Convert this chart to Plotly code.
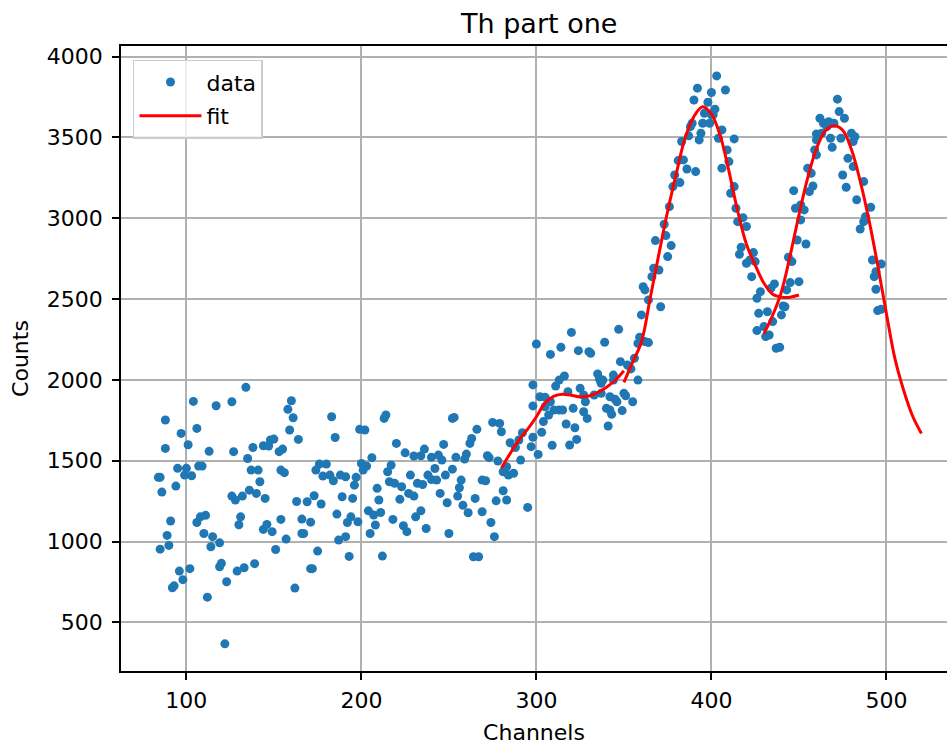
import plotly.graph_objects as go

# Measured spectrum: channel number and counts per channel
channels = [
    84, 85, 85, 86, 88, 88, 89, 90, 91, 92, 93, 94, 95, 96, 97, 98, 99, 100,
    101, 102, 103, 104, 106, 106, 107, 108, 109, 110, 111, 112, 113, 114, 115,
    117, 119, 119, 120, 122, 123, 126, 126, 127, 128, 129, 130, 131, 132, 133,
    134, 135, 136, 137, 138, 139, 140, 141,
    142, 144, 144, 145, 146, 147, 148, 149, 150, 151, 153, 154, 154, 155, 156,
    157, 158, 159, 160, 161, 162, 163, 164, 166, 166, 167, 169, 171, 171, 172,
    173, 174, 175, 176, 177, 178, 180, 182, 183, 184, 185, 186, 187, 188, 189,
    191, 191, 192, 193, 194, 195, 196, 197, 198, 199, 200, 201, 202, 203, 204,
    205, 206, 207, 208, 209, 210, 211, 212, 213, 214, 215, 216, 217, 218, 219,
    220,
    222, 223, 224, 225, 226, 227, 228, 230, 230, 231, 232, 234, 234, 235, 236,
    237, 238, 240, 240, 242, 243, 244, 245, 246, 247, 248, 249, 250, 252, 252,
    253, 254, 255, 256, 257, 258, 259, 260, 261, 262, 263, 264, 265, 266, 267,
    269, 269, 271, 272, 273, 274, 275, 276, 277, 278, 279, 280, 281, 281, 283,
    283, 284, 285, 287, 288, 290, 291, 292, 295,
    297, 298, 298, 298, 300, 301, 302, 303, 304, 305, 305, 307, 308, 308, 309,
    310, 311, 313, 313, 314, 315, 316, 317, 318, 319, 320, 321, 322, 323, 324,
    325, 327, 327, 328, 329, 330, 331, 333, 335, 336, 337, 337, 338, 339, 340,
    341, 342, 342, 343, 344, 344, 345, 346, 347, 348, 349, 350, 351, 352, 354,
    355, 356, 358, 358, 359, 360, 362, 364, 364, 371,
    361, 362, 366, 367, 368, 370, 373, 374, 375, 376, 377, 378, 379, 381, 382,
    383, 384, 386, 387, 388, 389, 390, 391, 392, 393, 394, 395, 396, 398, 399,
    400, 400, 401, 402, 403, 404, 406, 406, 408, 409, 410, 411, 413, 413, 414,
    415, 416, 417, 418, 420, 420, 422, 423, 424, 425, 426, 426, 427,
    428, 430, 431, 432, 433, 434, 435, 436, 437, 439, 440, 441, 442, 443, 444,
    445, 446, 447, 448, 449, 450, 451, 451, 453, 454, 455, 456, 457, 458, 459,
    460, 460, 460, 462, 463, 464, 466, 467, 468, 469, 470, 472, 473, 474, 475,
    476, 477, 478, 480, 481, 481, 482, 483, 485, 487, 487, 488, 491, 492, 493,
    494, 494, 495, 497, 497,
]
counts = [
    1397, 953, 1397, 1306, 1752, 1576, 1038, 976, 1127, 714, 726, 1343, 1453,
    817, 1669, 764, 1411, 1453, 1599, 832, 1407, 1867, 1700, 1118, 1467, 1153,
    1467, 1050, 1162, 656, 1558, 968, 1030, 1840, 992, 844, 865, 367, 751, 1865,
    1281, 1556, 1257, 817, 1104, 1153, 1281, 838, 1954, 1514, 1318, 1442, 1582,
    863, 1298, 1442,
    1370, 1593, 1075, 1267, 1106, 1591, 1628, 1061, 1634, 951, 1556, 1442, 1137,
    1572, 1426, 1015, 1818, 1690, 1871, 1766, 712, 1248, 1632, 1139, 1050, 1050,
    1246, 1120, 832, 832, 1283, 1442, 941, 1479, 1232, 1405, 1479, 1411, 1772,
    1376, 1644, 1170, 1009, 1411, 1277, 1401, 1030, 1118, 908, 1153, 1267, 1349,
    1397, 1122, 1694, 1483, 1442, 1690, 1467, 1190, 1050, 1519, 1164, 1102, 1329,
    1257, 1180, 910, 1762, 1783, 1432, 1370, 1473, 1137, 1360, 1607,
    1261, 1339, 1098, 1549, 1061, 1298, 1411, 1529, 1281, 1153, 1360, 1531,
    1190, 1353, 1572, 1081, 1411, 1521, 1384, 1452, 1380, 1535, 1298, 1504, 1601,
    1411, 1240, 1050, 1762, 1448, 1768, 1521, 1281, 1333, 1380, 1224, 1510, 1541,
    1178, 1607, 1638, 906, 1267, 1694, 906, 1380, 1184, 1376, 1531, 1519, 1118,
    1737, 1030, 1252, 1498, 1731, 1679, 1314, 1432, 1257, 1463, 1411, 1611, 1422,
    1582, 1628, 1504, 1673, 1211,
    1587, 1969, 1839, 1645, 2222, 1539, 1896, 1676, 1742, 1892, 1834, 1783, 2158,
    1865, 1595, 1814, 1962, 1999, 1814, 2202, 1814, 2024, 1727, 1927, 1597, 2294,
    1824, 1704, 1632, 2181, 1948, 1907, 1803, 1865, 1762, 2175, 2165, 1907, 2037,
    2006, 1979, 1917, 1999, 2233, 1824, 1715, 1896, 1814, 1787, 2030, 1999, 1880,
    1865, 2313, 2113, 1810, 1917, 1902, 2092, 2068, 1865, 2134, 2226, 1999, 2264,
    2402, 2237, 2495, 2231, 2453,
    2577, 2557, 2639, 2691, 2862, 2680, 2963, 2893, 2763, 3072, 2831, 3196, 3268,
    3357, 3221, 3475, 3361, 3305, 3510, 3567, 3588, 3732, 3289, 3805, 3485, 3526,
    3588, 3650, 3718, 3588, 3640, 3778, 3640, 3675, 3881, 3495, 3547, 3310, 3794,
    3423, 3351, 3155, 3491, 3196, 3062, 2979, 2777, 2821, 3004, 2949, 2722, 2742,
    2639, 2788, 2732, 2505, 2305, 2412,
    2546, 2330, 2268, 2422, 2278, 2567, 2361, 2594, 2196, 2202, 2402, 2457, 2453,
    2557, 2759, 2602, 2732, 3171, 3062, 2866, 2608, 3083, 2990, 3052, 2841, 3310,
    3165, 3279, 3200, 3423, 3522, 3485, 3392, 3619, 3526, 3588, 3567, 3598, 3495,
    3439, 3588, 3737, 3660, 3495, 3268, 3619, 3192, 3371, 3526, 3475, 3320, 3505,
    3114, 2934, 3227, 2979, 3010, 3068, 2742, 2639, 2670, 2561, 2429, 2717, 2437,
]

# Fitted model, evaluated on three channel windows
fit_ch_1 = [280, 285, 290, 295, 300, 305, 310, 315, 320, 325, 330, 335, 340,
            345, 350]
fit_counts_1 = [1455, 1545, 1628, 1695, 1772, 1858, 1900, 1912, 1905, 1895,
                1900, 1922, 1955, 1998, 2057]

fit_ch_2 = [350, 355, 360, 365, 370, 375, 380, 385, 390, 395, 400, 405, 410,
            415, 420, 425, 430, 435, 440, 445, 450]
fit_counts_2 = [1985, 2110, 2235, 2505, 2780, 3045, 3280, 3498, 3630, 3690,
                3645, 3512, 3292, 3045, 2840, 2710, 2598, 2530, 2512, 2512,
                2525]

fit_ch_3 = [430, 435, 440, 445, 450, 455, 460, 465, 470, 475, 480, 485, 490,
            495, 500, 505, 510, 515, 520]
fit_counts_3 = [2285, 2400, 2545, 2770, 3020, 3250, 3430, 3540, 3572, 3545,
                3425, 3230, 2990, 2710, 2410, 2125, 1930, 1775, 1668]

x_ticks = [100, 200, 300, 400, 500]
y_ticks = [500, 1000, 1500, 2000, 2500, 3000, 3500, 4000]

BLUE = "#1f77b4"
RED = "#ff0000"
FONT = "DejaVu Sans"

fig = go.Figure()

fig.add_trace(go.Scatter(
    x=channels, y=counts, mode="markers", name="data",
    marker=dict(color=BLUE, size=9, line=dict(width=0)),
))

fit_segments = [(fit_ch_1, fit_counts_1), (fit_ch_2, fit_counts_2),
                (fit_ch_3, fit_counts_3)]
for i, (fx, fy) in enumerate(fit_segments):
    fig.add_trace(go.Scatter(
        x=fx, y=fy, mode="lines", name="fit", legendgroup="fit",
        showlegend=(i == 0),
        line=dict(color=RED, width=3, shape="spline", smoothing=1.0),
    ))

axis_common = dict(
    showgrid=True, gridcolor="#b0b0b0", gridwidth=1.6,
    showline=True, linecolor="black", linewidth=1.6,
    ticks="outside", ticklen=7, tickwidth=1.6, tickcolor="black",
    tickfont=dict(family=FONT, size=22, color="black"),
    zeroline=False,
)

fig.update_xaxes(
    range=[62.65, 534.6], tickvals=x_ticks, mirror=True, ticklabelstandoff=2,
    title=dict(text="Channels", font=dict(family=FONT, size=22, color="black"),
               standoff=12),
    **axis_common,
)
fig.update_yaxes(
    range=[199, 4066], tickvals=y_ticks, mirror=False, ticklabelstandoff=5,
    title=dict(text="Counts", font=dict(family=FONT, size=22, color="black"),
               standoff=12),
    **axis_common,
)

fig.update_layout(
    width=947, height=746,
    margin=dict(l=121, r=0, t=46, b=75),
    paper_bgcolor="white", plot_bgcolor="white",
    font=dict(family=FONT, color="black"),
    title=dict(text="Th part one", x=0.5694, xref="container", xanchor="center",
               y=1 - 24 / 746, yref="container", yanchor="middle",
               font=dict(family=FONT, size=27, color="black")),
    legend=dict(
        x=0.0145, y=0.978, xanchor="left", yanchor="top",
        bgcolor="rgba(255,255,255,0.8)", bordercolor="#cccccc", borderwidth=1.5,
        font=dict(family=FONT, size=22, color="black"),
        itemwidth=62, tracegroupgap=2,
    ),
    showlegend=True,
)

fig.write_html("out.html")
